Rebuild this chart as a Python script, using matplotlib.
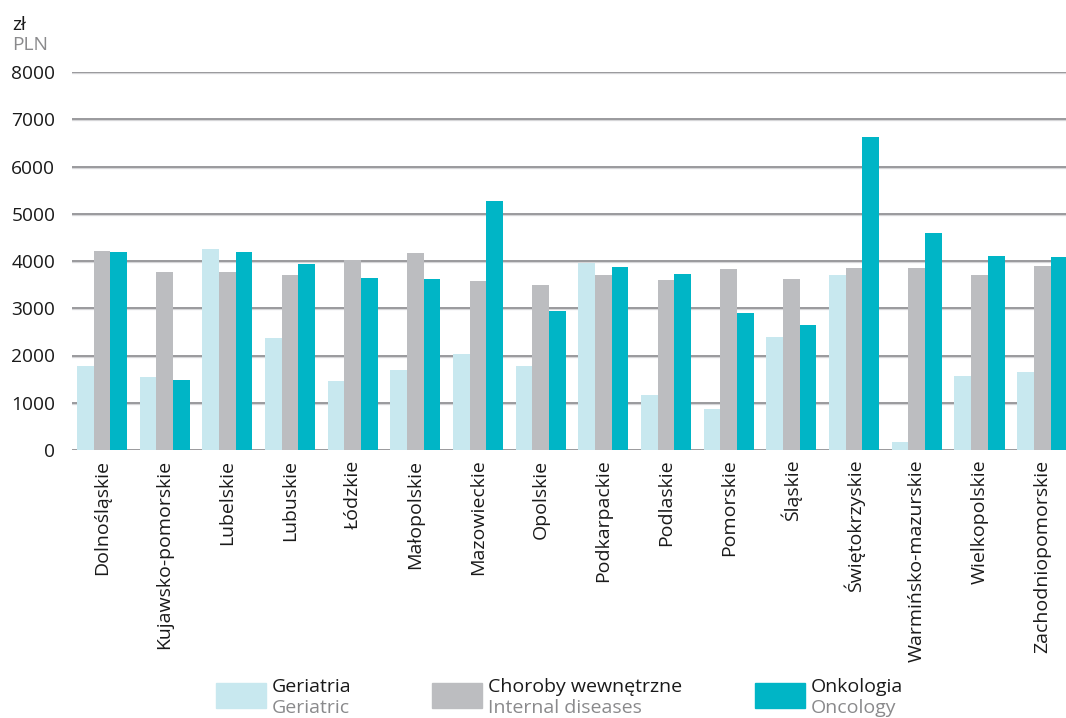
import matplotlib.pyplot as plt
import numpy as np
from matplotlib.patches import Rectangle

plt.rcParams['font.family'] = ['Open Sans', 'DejaVu Sans']

regions = ['Dolnośląskie', 'Kujawsko-pomorskie', 'Lubelskie', 'Lubuskie', 'Łódzkie',
           'Małopolskie', 'Mazowieckie', 'Opolskie', 'Podkarpackie', 'Podlaskie',
           'Pomorskie', 'Śląskie', 'Świętokrzyskie', 'Warmińsko-mazurskie',
           'Wielkopolskie', 'Zachodniopomorskie']
geriatria = [1780, 1545, 4250, 2370, 1460, 1690, 2030, 1780, 3960, 1165, 870, 2390, 3700, 170, 1565, 1650]
choroby = [4210, 3765, 3765, 3705, 4020, 4170, 3575, 3490, 3705, 3600, 3830, 3620, 3850, 3850, 3705, 3895]
onkologia = [4190, 1480, 4190, 3935, 3640, 3620, 5270, 2940, 3875, 3725, 2900, 2645, 6625, 4595, 4105, 4085]

series = [
    (geriatria, '#c8e8ef', 'Geriatria', 'Geriatric'),
    (choroby, '#bcbdc0', 'Choroby wewnętrzne', 'Internal diseases'),
    (onkologia, '#00b5c6', 'Onkologia', 'Oncology'),
]

fig = plt.figure(figsize=(10.66, 7.18), dpi=100)
ax = fig.add_axes([72 / 1066, 268 / 718, 1 - 72 / 1066, 378 / 718])

x = np.arange(len(regions))
w = 0.266
for k, (vals, col, _, _) in enumerate(series):
    ax.bar(x + (k - 1) * w, vals, width=w, color=col, zorder=3)

for v in range(0, 8001, 1000):
    ax.axhline(v, color='#7f7f82', lw=1.1, zorder=2)
    ax.axhline(v - 25, color='#d6d6d8', lw=0.9, zorder=1)

ax.set_ylim(0, 8000)
ax.set_xlim(-0.477, 15.38)
ax.set_yticks(range(0, 8001, 1000))
ax.set_yticklabels([str(v) for v in range(0, 8001, 1000)], fontsize=13.8)
ax.set_xticks(x)
ax.set_xticklabels(regions, rotation=90, fontsize=14, va='top', ha='center')
ax.tick_params(axis='both', length=0, colors='#1a1a1a')
ax.tick_params(axis='y', pad=12)
ax.tick_params(axis='x', pad=7)
for s in ax.spines.values():
    s.set_visible(False)

fig.text(12 / 1066, 1 - 25 / 718, 'zł', fontsize=13.8, color='#1a1a1a', va='center')
fig.text(12 / 1066, 1 - 45 / 718, 'PLN', fontsize=13.8, color='#8a8a8c', va='center')

legend_x = [216, 432, 755]
for (vals, col, pl, en), lx in zip(series, legend_x):
    fig.patches.append(Rectangle((lx / 1066, 1 - 708 / 718), 50 / 1066, 25 / 718,
                                 transform=fig.transFigure, color=col))
    fig.text((lx + 56) / 1066, 1 - 687 / 718, pl, fontsize=14, color='#1a1a1a', va='center')
    fig.text((lx + 56) / 1066, 1 - 708 / 718, en, fontsize=14, color='#8a8a8c', va='center')

fig.savefig('out.png', dpi=100)
